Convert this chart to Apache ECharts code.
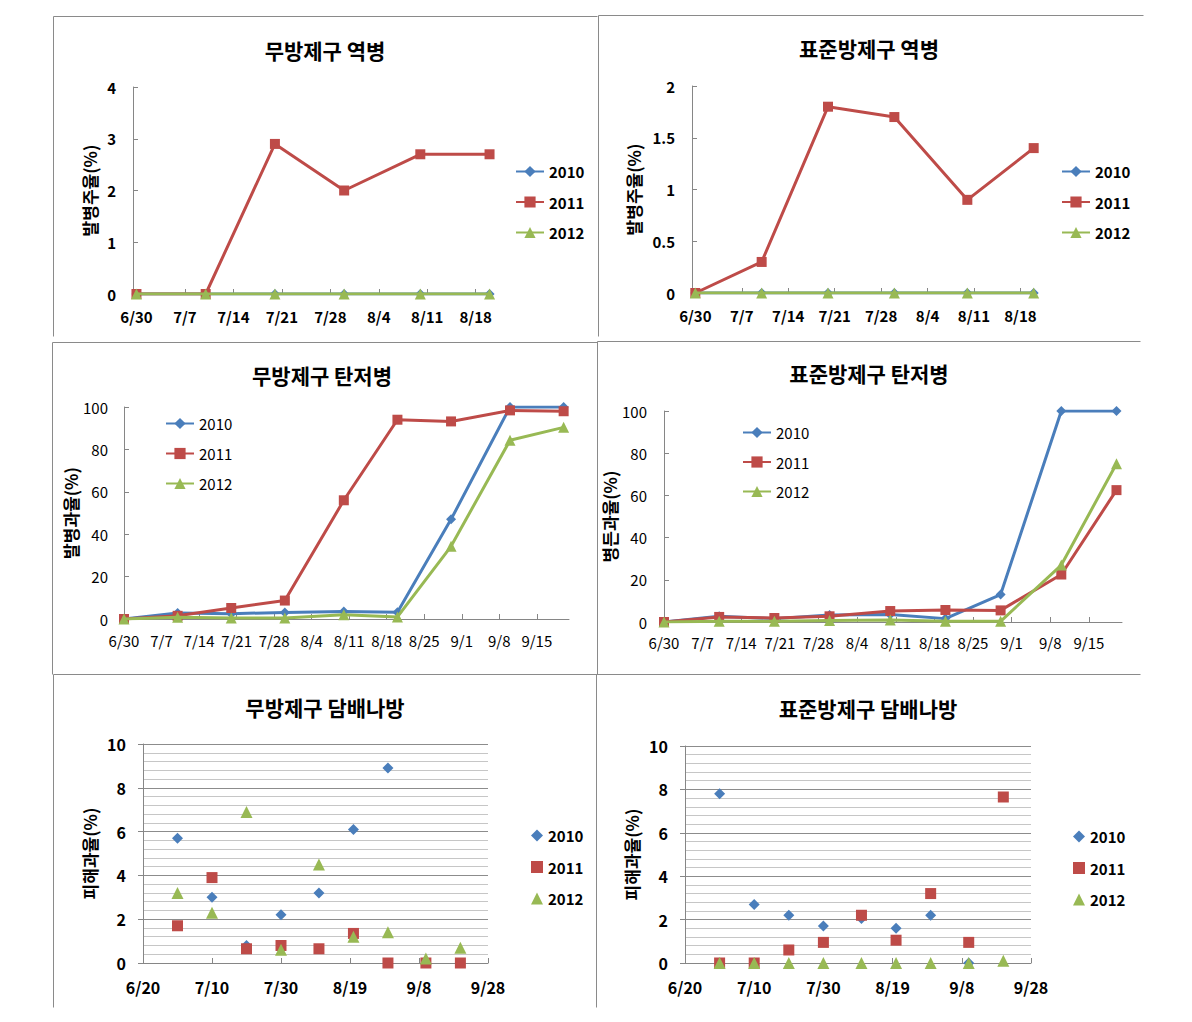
<!DOCTYPE html>
<html><head><meta charset="utf-8">
<script src="https://cdn.jsdelivr.net/npm/echarts@6/dist/echarts.min.js"></script>
<style>html,body{margin:0;padding:0;background:#fff}#c{width:1192px;height:1022px}</style>
</head><body><div id="c"></div>
<script>
// ---------- data ----------
const seriesNames = ['2010', '2011', '2012'];
const panelTitles = ['무방제구 역병', '표준방제구 역병', '무방제구 탄저병', '표준방제구 탄저병', '무방제구 담배나방', '표준방제구 담배나방'];
const yNames = ['발병주율(%)', '발병주율(%)', '발병과율(%)', '병든과율(%)', '피해과율(%)', '피해과율(%)'];

// 역병
const blightDates = ['6/30', '7/10', '7/20', '7/30', '8/10', '8/20'];
const blightNoSpray2010 = [0, 0, 0, 0, 0, 0];
const blightNoSpray2011 = [0, 0, 2.9, 2.0, 2.7, 2.7];
const blightNoSpray2012 = [0, 0, 0, 0, 0, 0];
const blightStd2010 = [0, 0, 0, 0, 0, 0];
const blightStd2011 = [0, 0.3, 1.8, 1.7, 0.9, 1.4];
const blightStd2012 = [0, 0, 0, 0, 0, 0];

// 탄저병
const anthDates = ['6/30', '7/10', '7/20', '7/30', '8/10', '8/20', '8/30', '9/10', '9/20'];
const anthNoSpray2010 = [0, 2.8, 2.5, 3.1, 3.5, 3.2, 47, 100, 100];
const anthNoSpray2011 = [0, 1.5, 5.2, 8.7, 56, 94, 93.2, 98.4, 98];
const anthNoSpray2012 = [0, 0.8, 0.5, 0.5, 2, 1, 34.3, 84.3, 90.4];
const anthStd2010 = [0, 2.7, 1.6, 3.3, 3.5, 1.6, 13, 100, 100];
const anthStd2011 = [0, 2.4, 1.9, 2.7, 5.2, 5.7, 5.5, 22.5, 62.5];
const anthStd2012 = [0, 0.3, 0.4, 0.7, 1.0, 0.3, 0.3, 27, 75];

// 담배나방
const mothDates = ['6/30', '7/10', '7/20', '7/30', '8/10', '8/20', '8/30', '9/10', '9/20'];
const mothNoSpray2010 = [5.7, 3.0, 0.8, 2.2, 3.2, 6.1, 8.9, null, null];
const mothNoSpray2011 = [1.7, 3.9, 0.65, 0.8, 0.65, 1.35, 0, 0, 0];
const mothNoSpray2012 = [3.2, 2.3, 6.9, 0.6, 4.5, 1.2, 1.4, 0.2, 0.7];
const mothStd2010 = [7.8, 2.7, 2.2, 1.7, 2.05, 1.6, 2.2, 0, null];
const mothStd2011 = [0, 0, 0.6, 0.95, 2.2, 1.05, 3.2, 0.95, 7.65];
const mothStd2012 = [0, 0, 0, 0, 0, 0, 0, 0, 0.1];

// tick labels
const weeklyTicksShort = ['6/30', '7/7', '7/14', '7/21', '7/28', '8/4', '8/11', '8/18'];
const weeklyTicksLong = ['6/30', '7/7', '7/14', '7/21', '7/28', '8/4', '8/11', '8/18', '8/25', '9/1', '9/8', '9/15'];
const mothTicks = ['6/20', '7/10', '7/30', '8/19', '9/8', '9/28'];

// ---------- helpers ----------
const FONT = '"Noto Sans CJK KR", "Noto Sans", sans-serif';
const COLORS = ['#4A7EBB', '#BE4B48', '#98B954'];
const MARKERS = ['diamond', 'rect', 'triangle'];
function toDay(md) { const p = md.split('/'); return Math.round(Date.UTC(2011, +p[0] - 1, +p[1]) / 864e5); }
function pts(dates, vals) { const out = []; dates.forEach((d, i) => { if (vals[i] != null) out.push([toDay(d), vals[i]]); }); return out; }

const panels = [
  { kind: 'line', tpos: [325, 50], grid: { left: 133, top: 87, width: 360, height: 207 },
    x: { min: toDay('6/30') - 0.5, max: toDay('8/20') + 0.5, ticks: weeklyTicksShort, fs: 15, fw: 'bold', margin: 15 },
    y: { min: 0, max: 4, interval: 1, fs: 15, fw: 'bold', margin: 17, gap: 35 },
    legend: { left: 515, top: 164, gap: 15.5, fs: 15, fw: 'bold' },
    dates: blightDates, data: [blightNoSpray2010, blightNoSpray2011, blightNoSpray2012] },
  { kind: 'line', tpos: [869, 48], grid: { left: 692, top: 86, width: 345, height: 207 },
    x: { min: toDay('6/30') - 0.5, max: toDay('8/20') + 0.5, ticks: weeklyTicksShort, fs: 15, fw: 'bold', margin: 15 },
    y: { min: 0, max: 2, interval: 0.5, fs: 15, fw: 'bold', margin: 17, gap: 50 },
    legend: { left: 1061, top: 164, gap: 15.5, fs: 15, fw: 'bold' },
    dates: blightDates, data: [blightStd2010, blightStd2011, blightStd2012] },
  { kind: 'line', tpos: [322, 375], grid: { left: 124, top: 407, width: 445, height: 212 },
    x: { min: toDay('6/30'), max: toDay('9/21'), ticks: weeklyTicksLong, fs: 15, fw: 'normal', margin: 14 },
    y: { min: 0, max: 100, interval: 20, fs: 15, fw: 'normal', margin: 16, gap: 45 },
    legend: { left: 165, top: 416, gap: 15, fs: 15, fw: 'normal' },
    dates: anthDates, data: [anthNoSpray2010, anthNoSpray2011, anthNoSpray2012] },
  { kind: 'line', tpos: [869, 373], grid: { left: 664, top: 411, width: 458, height: 211 },
    x: { min: toDay('6/30'), max: toDay('9/21'), ticks: weeklyTicksLong, fs: 15, fw: 'normal', margin: 13 },
    y: { min: 0, max: 100, interval: 20, fs: 15, fw: 'normal', margin: 17, gap: 41 },
    legend: { left: 742, top: 425, gap: 14.5, fs: 15, fw: 'normal' },
    dates: anthDates, data: [anthStd2010, anthStd2011, anthStd2012] },
  { kind: 'scatter', tpos: [325, 707], grid: { left: 143, top: 744, width: 345, height: 219 },
    x: { min: toDay('6/20'), max: toDay('9/28'), ticks: mothTicks, fs: 16, fw: 'bold', margin: 16 },
    y: { min: 0, max: 10, interval: 2, fs: 16, fw: 'bold', margin: 17, gap: 45 },
    legend: { left: 531, top: 828, gap: 16.5, fs: 15, fw: 'bold' },
    dates: mothDates, data: [mothNoSpray2010, mothNoSpray2011, mothNoSpray2012] },
  { kind: 'scatter', tpos: [868, 708], grid: { left: 685, top: 746, width: 346, height: 217 },
    x: { min: toDay('6/20'), max: toDay('9/28'), ticks: mothTicks, fs: 16, fw: 'bold', margin: 16 },
    y: { min: 0, max: 10, interval: 2, fs: 16, fw: 'bold', margin: 17, gap: 45 },
    legend: { left: 1073, top: 829, gap: 16.5, fs: 15, fw: 'bold' },
    dates: mothDates, data: [mothStd2010, mothStd2011, mothStd2012] }
];

const borderLines = [
  [53, 16, 53, 336], [53, 16, 597, 16], [598, 15, 1143, 15], [598, 15, 598, 336],
  [52, 342, 52, 674], [52, 342, 597, 342], [597, 341, 1140, 341], [597, 341, 597, 674],
  [53, 674, 1140, 674], [53, 674, 53, 1007], [596, 674, 596, 1007]
];

const option = { animation: false, grid: [], xAxis: [], yAxis: [], legend: [], series: [], graphic: [] };
const AX = '#868686';
panels.forEach((p, i) => {
  option.grid.push(Object.assign({ containLabel: false }, p.grid));
  const tickVals = p.x.ticks.map(toDay);
  const labelMap = {};
  p.x.ticks.forEach((t, k) => { labelMap[tickVals[k]] = t; });
  option.xAxis.push({
    type: 'value', gridIndex: i, min: p.x.min, max: p.x.max,
    axisLine: { show: true, onZero: false, lineStyle: { color: AX, width: 1 } },
    axisTick: { show: true, inside: true, length: 5, customValues: tickVals, lineStyle: { color: AX } },
    axisLabel: { customValues: tickVals, formatter: v => labelMap[v] || '', margin: p.x.margin,
      fontSize: p.x.fs, fontWeight: p.x.fw, color: '#000', fontFamily: FONT },
    splitLine: { show: false }
  });
  const sc = p.kind === 'scatter';
  option.yAxis.push({
    type: 'value', gridIndex: i, min: p.y.min, max: p.y.max, interval: p.y.interval,
    name: yNames[i], nameLocation: 'middle', nameRotate: 90, nameGap: p.y.gap,
    nameTextStyle: { fontSize: 17, fontWeight: 'bold', color: '#000', fontFamily: FONT },
    axisLine: { show: true, onZero: false, lineStyle: { color: AX, width: 1 } },
    axisTick: { show: true, inside: !sc, length: 5, lineStyle: { color: AX } },
    axisLabel: { margin: p.y.margin, fontSize: p.y.fs, fontWeight: p.y.fw, color: '#000', fontFamily: FONT },
    splitLine: { show: sc, lineStyle: { color: '#8c8c8c', width: 1 } },
    minorTick: { show: false, splitNumber: 5 },
    minorSplitLine: { show: sc, lineStyle: { color: '#c6c6c6', width: 1 } }
  });
  const ih = sc ? 12 : 14;
  option.legend.push({
    orient: 'vertical', left: p.legend.left, top: p.legend.top, padding: 0,
    itemGap: p.legend.gap, itemWidth: sc ? 12 : 28, itemHeight: ih, selectedMode: false,
    textStyle: { fontSize: p.legend.fs, fontWeight: p.legend.fw, color: '#000', fontFamily: FONT, lineHeight: ih },
    data: sc ? seriesNames.map((n, k) => ({ name: n, icon: MARKERS[k], itemStyle: { opacity: 1 } })) : seriesNames.slice()
  });
  p.data.forEach((vals, k) => {
    const s = {
      type: p.kind, name: seriesNames[k], xAxisIndex: i, yAxisIndex: i,
      data: pts(p.dates, vals), symbol: MARKERS[k],
      symbolSize: sc ? [11, 11, 12][k] : [10, 10, 11][k],
      itemStyle: { color: COLORS[k], opacity: 1 }, emphasis: { disabled: true }, z: 2 + k
    };
    if (!sc) { s.lineStyle = { width: 3, color: COLORS[k] }; s.showSymbol = true; s.showAllSymbol = true; }
    option.series.push(s);
  });
  option.graphic.push({
    type: 'text', x: p.tpos[0], y: p.tpos[1], silent: true,
    style: { text: panelTitles[i], fill: '#000', font: 'bold 21px ' + FONT, align: 'center', verticalAlign: 'middle' }
  });
});

borderLines.forEach(b => {
  option.graphic.push({ type: 'line', silent: true, shape: { x1: b[0] + 0.5, y1: b[1] + 0.5, x2: b[2] + 0.5, y2: b[3] + 0.5 },
    style: { stroke: '#8a8a8a', lineWidth: 1 } });
});

const chart = echarts.init(document.getElementById('c'), null, { renderer: 'svg' });
chart.setOption(option);
</script>
</body></html>
